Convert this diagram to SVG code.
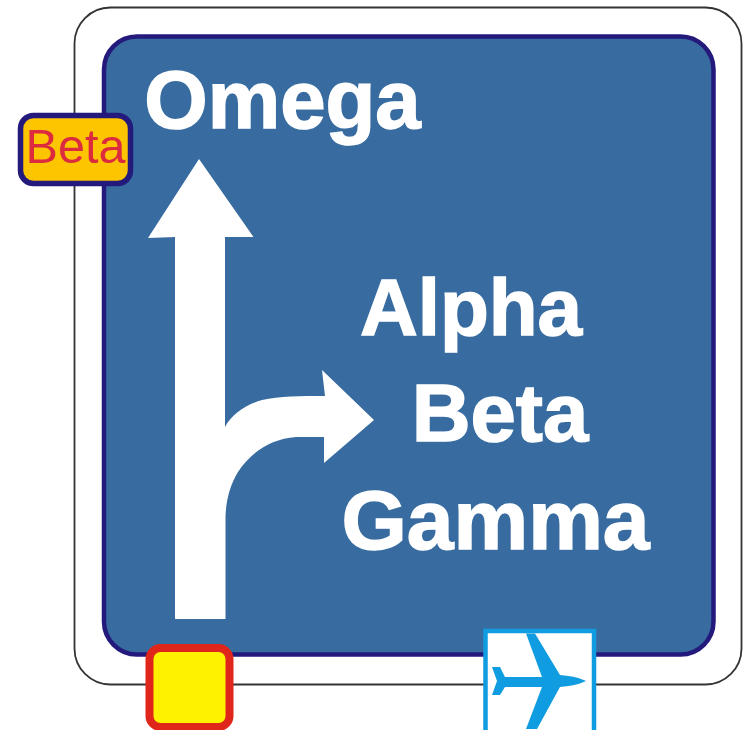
<svg xmlns="http://www.w3.org/2000/svg" width="748" height="730" viewBox="0 0 748 730">
<style>
.t{font-family:"Liberation Sans",Arial,sans-serif;font-weight:bold;fill:#fff;stroke:#fff;stroke-width:1.500;text-anchor:middle}
</style>
<rect width="748" height="730" fill="#fff"/>
<g id="sign-outer"><rect x="74.500" y="7.500" width="667" height="677" rx="36" fill="#fff" stroke="#333" stroke-width="1.800"/></g>
<g id="sign-panel"><rect x="104" y="36.500" width="609.500" height="618" rx="33" fill="#386ca0" stroke="#231a7c" stroke-width="4.500"/></g>
<g id="connectors">
<path id="arrows" fill="#fff" d="M175 619V237L148 238L199 159L253.500 237H225V427C232 414 245 405 262 400C280 396 300 396 325 396L322 370L374 420L324 463V437H296C270 439 250 453 238 472C230 485 226 500 225.500 517V619Z"/>
</g>
<g id="label-omega"><text class="t" x="282.500" y="128" font-size="81.500">Omega</text></g>
<g id="label-alpha"><text class="t" x="471" y="335" font-size="80">Alpha</text></g>
<g id="label-beta"><text class="t" x="500" y="441" font-size="81.500">Beta</text></g>
<g id="label-gamma"><text class="t" x="495.500" y="549" font-size="84">Gamma</text></g>
<g id="beta-badge"><rect x="20.500" y="115.500" width="110" height="68" rx="13" fill="#fdc400" stroke="#231a7c" stroke-width="5.500"/>
<text x="75.500" y="163" font-family="'Liberation Sans',Arial,sans-serif" font-size="48.500" fill="#dc2a3e" text-anchor="middle">Beta</text></g>
<g id="yellow-square"><rect x="149.500" y="648" width="80" height="79" rx="11" fill="#fff200" stroke="#e0261a" stroke-width="8"/></g>
<g id="airport-sign"><rect x="485.500" y="631" width="108.500" height="102" fill="#fff" stroke="#109ce0" stroke-width="4.500"/>
<path fill="#109ce0" d="M526 633.500H535L560 675C572 676 580 678 586 681C580 684 572 686 560 687L537 729H526L542 687H505L500 695H492L497 681L492 667H500L505 677H542Z"/></g>
</svg>
